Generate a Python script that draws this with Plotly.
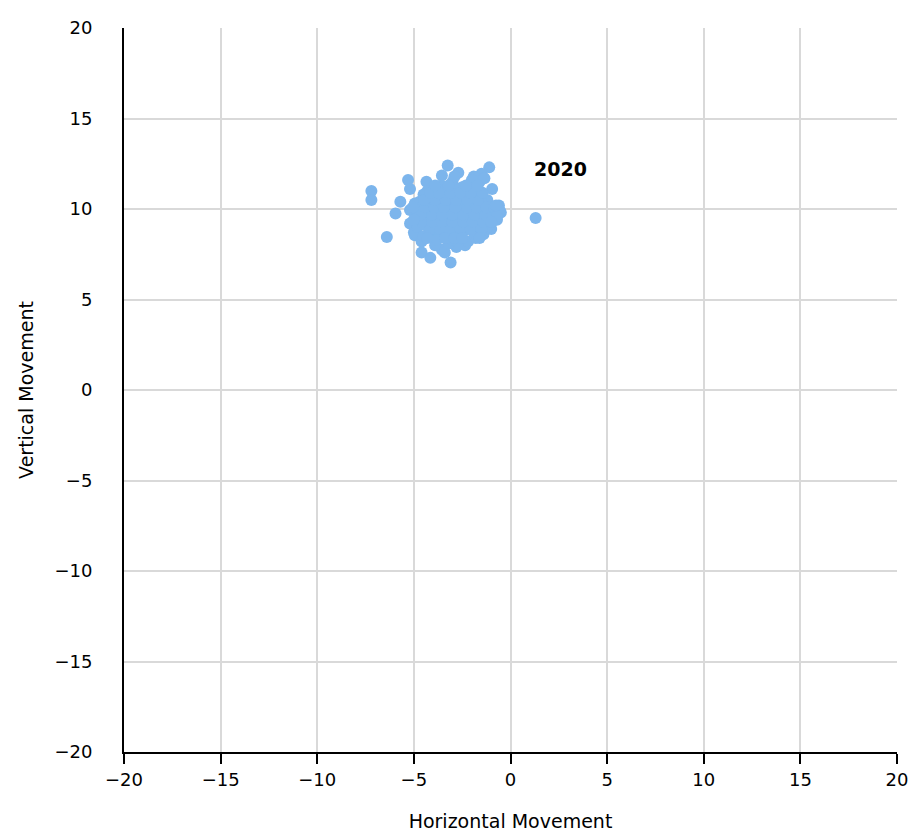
import plotly.graph_objects as go

horizontal = [
    -7.2, -7.2, -6.4, -5.95, -5.7, -5.3, -5.2, -5.2, -4.6, -4.15,
    -3.1, -3.25, -2.7, -1.1, -0.95, 1.3, -1.5, -0.5, -1.4, -2.35,
    -3.55, -4.95, -4.35, -3.55, -1.9, -4.7, -5.2, -4.95, -5.0, -4.6,
    -3.4, -2.8, -2.2, -1.8, -1.0, -0.7, -0.6, -1.2, -1.6, -2.0,
    -2.5, -3.0, -3.6, -4.0, -4.3, -4.5, -4.8, -4.8, -3.9, -3.2,
    -2.6, -1.3, -0.9, -1.1, -1.5, -2.2, -4.2, -2.9, -1.35, -0.8,
    -4.0, -3.5, -3.0, -2.4, -1.9,
    -4.4, -3.9, -3.3, -2.8, -2.2, -1.7, -1.2,
    -4.3, -3.8, -3.2, -2.7, -2.1, -1.6, -1.1,
    -4.5, -3.9, -3.4, -2.9, -2.4, -1.9, -1.4,
    -4.2, -3.7, -3.1, -2.6, -2.0, -1.5,
    -4.0, -3.5, -3.0, -2.4, -1.9,
    -3.3, -2.8, -1.8,
    -3.8, -3.0, -4.5,
    -4.15, -3.65, -3.15, -2.6, -2.05, -1.5,
    -4.6, -4.05, -3.55, -3.0, -2.45, -1.95, -1.4, -0.95,
    -4.65, -4.05, -3.55, -3.0, -2.45, -1.85, -1.3, -0.75,
    -4.4, -3.95, -3.45, -2.85, -2.25, -1.75, -1.25, -0.85,
    -4.45, -3.9, -3.35, -2.8, -2.25, -1.7,
    -4.15, -3.7, -3.1, -2.6, -2.05, -1.45,
    -3.9, -3.2, -2.3, -1.7,
    -4.3, -3.4, -2.9, -2.5, -1.6,
    -0.55, -0.7, -0.75, -5.0, -5.05, -1.0,
]
vertical = [
    11.0, 10.5, 8.45, 9.75, 10.4, 11.6, 11.1, 9.2, 7.6, 7.3,
    7.05, 12.4, 12.0, 12.3, 11.1, 9.5, 11.95, 9.8, 8.6, 8.0,
    7.75, 8.55, 11.5, 11.85, 11.8, 10.4, 9.95, 10.3, 8.7, 8.2,
    7.6, 7.9, 8.2, 8.4, 8.9, 9.4, 10.2, 10.5, 11.5, 11.6,
    11.2, 11.5, 11.3, 11.2, 11.0, 10.8, 9.6, 9.0, 8.0, 8.1,
    8.5, 9.2, 9.6, 10.0, 10.8, 11.0, 8.6, 11.8, 11.7, 9.9,
    8.7, 8.75, 8.65, 8.8, 8.7,
    9.1, 9.05, 9.15, 9.0, 9.1, 9.05, 9.0,
    9.5, 9.45, 9.55, 9.5, 9.45, 9.55, 9.4,
    9.9, 9.85, 9.95, 9.9, 9.85, 9.95, 9.8,
    10.3, 10.25, 10.35, 10.3, 10.25, 10.35,
    10.7, 10.65, 10.75, 10.7, 10.6,
    11.0, 11.05, 11.2,
    8.3, 8.3, 8.5,
    8.9, 8.9, 8.9, 8.9, 8.9, 8.9,
    9.3, 9.3, 9.3, 9.3, 9.3, 9.3, 9.3, 9.3,
    9.7, 9.7, 9.7, 9.7, 9.7, 9.7, 9.7, 9.7,
    10.1, 10.1, 10.1, 10.1, 10.1, 10.1, 10.1, 10.1,
    10.5, 10.5, 10.5, 10.5, 10.5, 10.5,
    10.9, 10.9, 10.9, 10.9, 10.9, 10.9,
    11.3, 11.3, 11.3, 11.3,
    8.4, 8.4, 8.4, 8.4, 8.4,
    9.9, 9.6, 10.2, 9.4, 10.1, 9.3,
]
series_name = "2020"
label_pos = (2.6, 12.2)
tick_vals = [-20, -15, -10, -5, 0, 5, 10, 15, 20]

font_family = "Lucida Grande, DejaVu Sans, Verdana, sans-serif"

fig = go.Figure()
fig.add_trace(go.Scatter(
    x=horizontal, y=vertical, mode="markers", name=series_name,
    marker=dict(color="#7cb5ec", size=12, line=dict(width=0)),
    showlegend=False,
))
fig.add_annotation(
    x=label_pos[0], y=label_pos[1], text="<b>2020</b>", showarrow=False,
    font=dict(size=19, color="#000000", family=font_family),
)

fig.update_layout(
    width=922, height=836,
    margin=dict(l=124, r=25, t=28, b=84),
    paper_bgcolor="white", plot_bgcolor="white",
    font=dict(family=font_family, size=18, color="#000000"),
)
fig.update_xaxes(
    range=[-20, 20], tickvals=tick_vals, showgrid=True, gridcolor="#d9d9d9",
    gridwidth=2, zeroline=False, showline=True, linecolor="#000000", linewidth=2,
    ticks="outside", ticklen=10, tickwidth=2, tickcolor="#000000",
    tickfont=dict(size=18), automargin=False,
    title=dict(text="Horizontal Movement", font=dict(size=19), standoff=26),
)
fig.update_yaxes(
    range=[-20, 20], tickvals=tick_vals, showgrid=True, gridcolor="#d9d9d9",
    gridwidth=2, zeroline=False, showline=True, linecolor="#000000", linewidth=2,
    ticks="", ticklabelstandoff=26, tickfont=dict(size=18), automargin=False,
    title=dict(text="Vertical Movement", font=dict(size=19), standoff=16),
)

fig.write_html(
    "out.html",
    config={"displayModeBar": False},
    post_script="document.body.style.margin='0';document.body.style.overflow='hidden';",
)
